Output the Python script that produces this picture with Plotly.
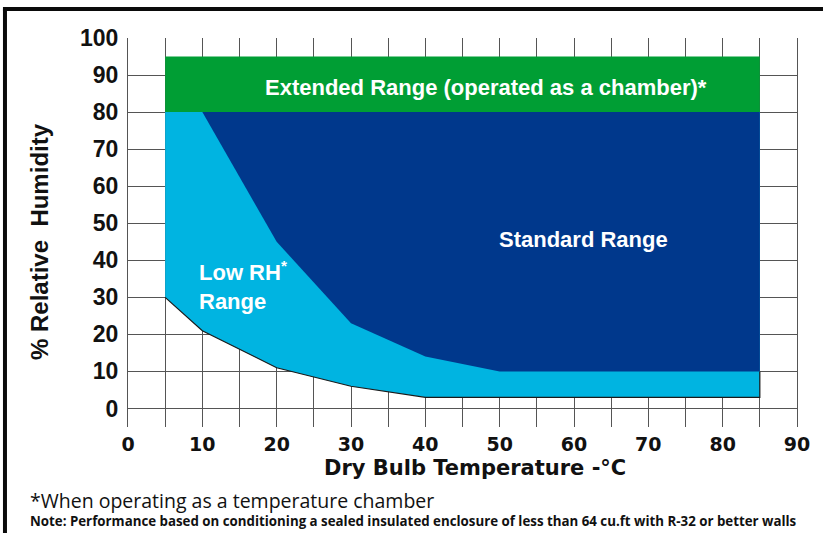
import plotly.graph_objects as go

# ---- data ----
x_ticks = [0, 10, 20, 30, 40, 50, 60, 70, 80, 90]
y_ticks = [0, 10, 20, 30, 40, 50, 60, 70, 80, 90, 100]

# Extended range (operated as a chamber)
ext_x = [5, 85, 85, 5, 5]
ext_y = [80, 80, 95, 95, 80]

# Low RH range: lower limit curve
low_x = [5, 10, 20, 30, 40, 85]
low_y = [30, 21, 11, 6, 3, 3]
low_top = 80
low_right_top = 10

# Standard range lower limit curve
std_x = [10, 20, 30, 40, 50, 85]
std_y = [80, 45, 23, 14, 10, 10]
std_top = 80

GREEN = "#009E34"
NAVY = "#00388C"
CYAN = "#00B4E1"
GRID = "#555555"

fig = go.Figure()

# light blue region (whole area between lower limit and 80)
lx = [low_x[0]] + [low_x[-1]] + low_x[::-1]
ly = [low_top] + [low_top] + low_y[::-1]
fig.add_trace(go.Scatter(x=lx, y=ly, fill="toself", fillcolor=CYAN,
                         mode="lines", line=dict(width=0), hoverinfo="skip"))
# standard range
sx = std_x + [std_x[-1]]
sy = std_y + [std_top]
fig.add_trace(go.Scatter(x=sx, y=sy, fill="toself", fillcolor=NAVY,
                         mode="lines", line=dict(width=0), hoverinfo="skip"))
# extended range
fig.add_trace(go.Scatter(x=ext_x, y=ext_y, fill="toself", fillcolor=GREEN,
                         mode="lines", line=dict(width=0), hoverinfo="skip"))
# dark outline of the low limit
fig.add_trace(go.Scatter(x=low_x + [low_x[-1]], y=low_y + [low_right_top],
                         mode="lines", line=dict(color="#1a1a1a", width=1.2),
                         hoverinfo="skip"))

W = "white"
fig.add_annotation(x=48.2, y=86.6, text="Extended Range (operated as a chamber)*",
                   showarrow=False, xanchor="center", yanchor="middle",
                   font=dict(family="Liberation Sans", size=22, color=W, weight="bold"))
fig.add_annotation(x=61.3, y=45.5, text="Standard Range",
                   showarrow=False, xanchor="center", yanchor="middle",
                   font=dict(family="Liberation Sans", size=22, color=W, weight="bold"))
fig.add_annotation(x=9.3, y=33.3, text="Low RH<sup>*</sup><br>Range", align="left",
                   xanchor="left", yanchor="middle",
                   showarrow=False, font=dict(family="Liberation Sans", size=22, color=W, weight="bold"))

# white strip below zero hides grid lines extension
fig.add_shape(type="rect", xref="x", yref="y", x0=0, x1=90, y0=-5, y1=-2.5,
              fillcolor="white", line=dict(width=0), layer="below")

# axis titles and notes
fig.add_annotation(xref="paper", yref="paper", x=0.519, y=-0.105,
                   xanchor="center", yanchor="middle",
                   text="Dry Bulb Temperature -°C", showarrow=False,
                   font=dict(family="DejaVu Sans", size=21, color="#111111", weight="bold"))
fig.add_annotation(xref="paper", yref="paper", x=-0.1315, y=0.4756, textangle=-90,
                   xanchor="center", yanchor="middle",
                   text="% Relative  Humidity", showarrow=False,
                   font=dict(family="Liberation Sans", size=24, color="#111111", weight="bold"))
fig.add_annotation(xref="paper", yref="paper", x=-0.1495, y=-0.188, xanchor="left",
                   yanchor="middle",
                   text="*When operating as a temperature chamber", showarrow=False,
                   font=dict(family="Open Sans", size=19.5, color="#111111"))
fig.add_annotation(xref="paper", yref="paper", x=-0.1495, y=-0.242, xanchor="left",
                   yanchor="middle",
                   text="Note: Performance based on conditioning a sealed insulated enclosure of less than 64 cu.ft with R-32 or better walls",
                   showarrow=False,
                   font=dict(family="Open Sans", size=13.3, color="#111111", weight="bold"))

# outer frame (left and top)
fig.add_shape(type="line", xref="paper", yref="paper", x0=-0.1839, x1=-0.1839,
              y0=-0.3, y1=1.0746, line=dict(color="#0a0a0a", width=4))
fig.add_shape(type="line", xref="paper", yref="paper", x0=-0.1869, x1=1.05,
              y0=1.0746, y1=1.0746, line=dict(color="#0a0a0a", width=4))

fig.update_xaxes(range=[0, 90], tickvals=x_ticks, ticktext=[str(v) for v in x_ticks],
                 showgrid=True, gridcolor=GRID, gridwidth=1.3,
                 minor=dict(dtick=5, showgrid=True, gridcolor=GRID, gridwidth=1.3, tick0=0),
                 zeroline=False, showline=False, ticks="", ticklabelstandoff=4,
                 tickfont=dict(family="DejaVu Sans", size=19, color="#111111", weight="bold"),
                 fixedrange=True)
fig.update_yaxes(range=[-5, 100], tickvals=y_ticks, ticktext=[str(v) for v in y_ticks],
                 showgrid=True, gridcolor=GRID, gridwidth=1.3,
                 zeroline=False, showline=True, linecolor=GRID, linewidth=1.3, mirror=True,
                 ticks="", ticklabelstandoff=4,
                 tickfont=dict(family="Liberation Sans", size=23, color="#111111", weight="bold"),
                 fixedrange=True)

fig.update_layout(width=823, height=533, showlegend=False,
                  margin=dict(l=128, r=26, t=38, b=106, pad=0),
                  plot_bgcolor="white", paper_bgcolor="white")

fig.write_html("out.html", config={"displayModeBar": False},
               post_script="document.body.style.margin='0';")
